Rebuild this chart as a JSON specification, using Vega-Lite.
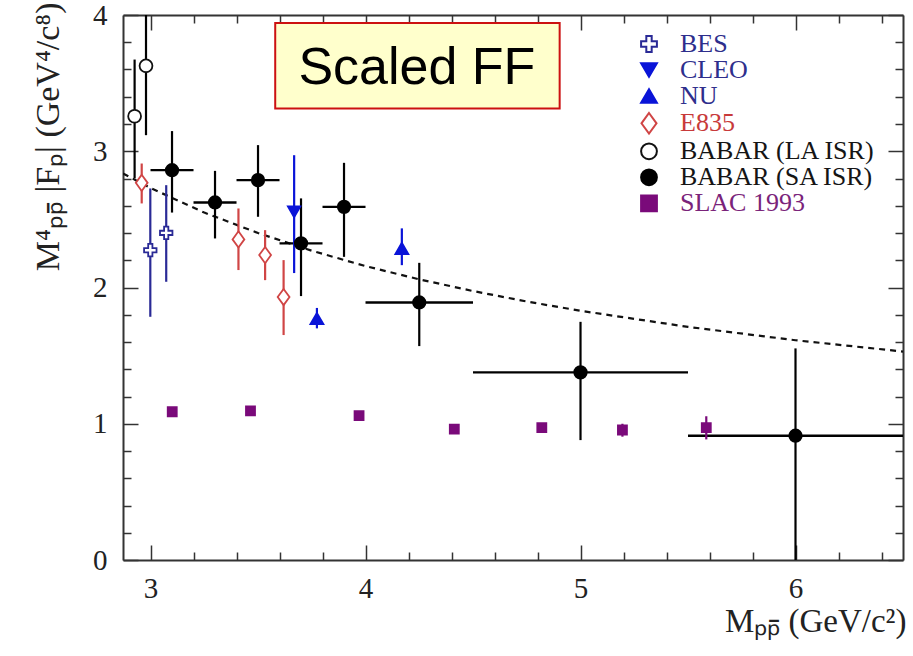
{
  "$schema": "https://vega.github.io/schema/vega-lite/v6.json",
  "width": 780,
  "height": 545,
  "autosize": {"type": "none"},
  "padding": {"left": 123, "top": 15, "right": 10, "bottom": 96},
  "background": "white",
  "config": {"view": {"stroke": null}, "axis": {"grid": false}},
  "datasets": {
    "pts": [
      {"exp": "BES", "x": 2.999, "y": 2.274, "ylo": 1.785, "yhi": 2.727},
      {"exp": "BES", "x": 3.073, "y": 2.401, "ylo": 2.042, "yhi": 2.751},
      {"exp": "CLEO", "x": 3.668, "y": 2.555, "ylo": 2.106, "yhi": 2.971},
      {"exp": "NU", "x": 3.774, "y": 1.772, "ylo": 1.70, "yhi": 1.85},
      {"exp": "NU", "x": 4.169, "y": 2.287, "ylo": 2.164, "yhi": 2.434},
      {"exp": "E835", "x": 2.959, "y": 2.768, "ylo": 2.617, "yhi": 2.91},
      {"exp": "E835", "x": 3.409, "y": 2.353, "ylo": 2.128, "yhi": 2.58},
      {"exp": "E835", "x": 3.533, "y": 2.238, "ylo": 2.054, "yhi": 2.421},
      {"exp": "E835", "x": 3.619, "y": 1.93, "ylo": 1.651, "yhi": 2.201},
      {"exp": "BABAR (LA ISR)", "x": 2.926, "y": 3.257, "ylo": 2.80, "yhi": 3.673},
      {"exp": "BABAR (LA ISR)", "x": 2.979, "y": 3.627, "ylo": 3.118, "yhi": 4.14},
      {"exp": "BABAR (SA ISR)", "x": 3.10, "y": 2.861, "ylo": 2.55, "yhi": 3.148, "xlo": 3.0, "xhi": 3.2},
      {"exp": "BABAR (SA ISR)", "x": 3.30, "y": 2.624, "ylo": 2.36, "yhi": 2.856, "xlo": 3.2, "xhi": 3.4},
      {"exp": "BABAR (SA ISR)", "x": 3.50, "y": 2.788, "ylo": 2.519, "yhi": 3.045, "xlo": 3.4, "xhi": 3.6},
      {"exp": "BABAR (SA ISR)", "x": 3.70, "y": 2.324, "ylo": 1.937, "yhi": 2.654, "xlo": 3.6, "xhi": 3.8},
      {"exp": "BABAR (SA ISR)", "x": 3.90, "y": 2.592, "ylo": 2.225, "yhi": 2.915, "xlo": 3.8, "xhi": 4.0},
      {"exp": "BABAR (SA ISR)", "x": 4.25, "y": 1.89, "ylo": 1.57, "yhi": 2.181, "xlo": 4.0, "xhi": 4.5},
      {"exp": "BABAR (SA ISR)", "x": 5.0, "y": 1.377, "ylo": 0.88, "yhi": 1.748, "xlo": 4.5, "xhi": 5.5},
      {"exp": "BABAR (SA ISR)", "x": 6.0, "y": 0.912, "ylo": 0.0, "yhi": 1.553, "xlo": 5.5, "xhi": 6.5},
      {"exp": "SLAC 1993", "x": 3.101, "y": 1.088},
      {"exp": "SLAC 1993", "x": 3.465, "y": 1.095},
      {"exp": "SLAC 1993", "x": 3.97, "y": 1.059},
      {"exp": "SLAC 1993", "x": 4.413, "y": 0.961},
      {"exp": "SLAC 1993", "x": 4.82, "y": 0.971},
      {"exp": "SLAC 1993", "x": 5.195, "y": 0.954, "ylo": 0.905, "yhi": 1.0},
      {"exp": "SLAC 1993", "x": 5.585, "y": 0.971, "ylo": 0.885, "yhi": 1.055}
    ],
    "curve": [
      {"x": 2.872, "y": 2.837},
      {"x": 3.0, "y": 2.73},
      {"x": 3.25, "y": 2.55},
      {"x": 3.5, "y": 2.40},
      {"x": 3.75, "y": 2.27},
      {"x": 4.0, "y": 2.157},
      {"x": 4.25, "y": 2.06},
      {"x": 4.5, "y": 1.974},
      {"x": 4.75, "y": 1.897},
      {"x": 5.0, "y": 1.829},
      {"x": 5.5, "y": 1.711},
      {"x": 6.0, "y": 1.613},
      {"x": 6.5, "y": 1.53}
    ],
    "box": [
      {"x": 3.58, "x2": 4.903, "y": 3.942, "y2": 3.314}
    ],
    "boxlabel": [
      {"x": 4.239, "y": 3.492, "label": "Scaled FF"}
    ]
  },
  "resolve": {"axis": {"x": "independent", "y": "independent"}},
  "layer": [
    {
      "data": {"name": "curve"},
      "mark": {"type": "line", "color": "#111111", "strokeWidth": 2.2, "strokeDash": [6, 5], "clip": true},
      "encoding": {
        "x": {
          "field": "x", "type": "quantitative",
          "scale": {"domain": [2.872, 6.5], "nice": false, "zero": false},
          "axis": {
            "orient": "bottom",
            "values": [3, 3.2, 3.4, 3.6, 3.8, 4, 4.2, 4.4, 4.6, 4.8, 5, 5.2, 5.4, 5.6, 5.8, 6, 6.2, 6.4],
            "labelExpr": "abs(datum.value - round(datum.value)) < 0.001 ? format(datum.value, 'd') : ''",
            "tickSize": {"condition": {"test": "abs(datum.value - round(datum.value)) < 0.001", "value": -15}, "value": -8},
            "tickColor": "#333333", "tickWidth": 1.5,
            "domainColor": "#333333", "domainWidth": 2,
            "labelFont": "Liberation Serif", "labelFontSize": 29, "labelColor": "#222222",
            "labelPadding": 29, "labelOverlap": false, "labelFlush": false,
            "grid": false,
            "title": "Mₚₚ̄ (GeV/c²)",
            "titleFont": "Liberation Serif", "titleFontSize": 33, "titleFontWeight": "normal", "titleColor": "#222222",
            "titleAlign": "right", "titleBaseline": "alphabetic", "titleX": 783, "titleY": 71
          }
        },
        "y": {
          "field": "y", "type": "quantitative",
          "scale": {"domain": [0, 4], "nice": false, "zero": false},
          "axis": {
            "orient": "left",
            "values": [0, 0.2, 0.4, 0.6, 0.8, 1, 1.2, 1.4, 1.6, 1.8, 2, 2.2, 2.4, 2.6, 2.8, 3, 3.2, 3.4, 3.6, 3.8, 4],
            "labelExpr": "abs(datum.value - round(datum.value)) < 0.001 ? format(datum.value, 'd') : ''",
            "tickSize": {"condition": {"test": "abs(datum.value - round(datum.value)) < 0.001", "value": -15}, "value": -8},
            "tickColor": "#333333", "tickWidth": 1.5,
            "domainColor": "#333333", "domainWidth": 2,
            "labelFont": "Liberation Serif", "labelFontSize": 29, "labelColor": "#222222",
            "labelPadding": 31, "labelOverlap": false, "labelFlush": false,
            "grid": false,
            "title": "M⁴ₚₚ̄ |Fₚ| (GeV⁴/c⁸)",
            "titleFont": "Liberation Serif", "titleFontSize": 34, "titleFontWeight": "normal", "titleColor": "#222222",
            "titleAngle": -90, "titleAlign": "right", "titleBaseline": "alphabetic", "titleX": -65, "titleY": -13
          }
        }
      }
    },
    {
      "data": {"name": "pts"},
      "transform": [{"filter": "isValid(datum.xlo)"}],
      "mark": {"type": "rule", "strokeWidth": 2.3, "color": "#000000", "clip": true},
      "encoding": {
        "x": {
          "field": "xlo", "type": "quantitative",
          "scale": {"domain": [2.872, 6.5], "nice": false, "zero": false},
          "axis": {
            "orient": "top",
            "values": [3, 3.2, 3.4, 3.6, 3.8, 4, 4.2, 4.4, 4.6, 4.8, 5, 5.2, 5.4, 5.6, 5.8, 6, 6.2, 6.4],
            "labels": false,
            "tickSize": {"condition": {"test": "abs(datum.value - round(datum.value)) < 0.001", "value": -15}, "value": -8},
            "tickColor": "#333333", "tickWidth": 1.5,
            "domainColor": "#333333", "domainWidth": 2,
            "grid": false, "title": null
          }
        },
        "x2": {"field": "xhi"},
        "y": {
          "field": "y", "type": "quantitative",
          "scale": {"domain": [0, 4], "nice": false, "zero": false},
          "axis": {
            "orient": "right",
            "values": [0, 0.2, 0.4, 0.6, 0.8, 1, 1.2, 1.4, 1.6, 1.8, 2, 2.2, 2.4, 2.6, 2.8, 3, 3.2, 3.4, 3.6, 3.8, 4],
            "labels": false,
            "tickSize": {"condition": {"test": "abs(datum.value - round(datum.value)) < 0.001", "value": -15}, "value": -8},
            "tickColor": "#333333", "tickWidth": 1.5,
            "domainColor": "#333333", "domainWidth": 2,
            "grid": false, "title": null
          }
        }
      }
    },
    {
      "data": {"name": "pts"},
      "transform": [{"filter": "isValid(datum.ylo)"}],
      "mark": {"type": "rule", "strokeWidth": 2.2, "clip": true},
      "encoding": {
        "x": {"field": "x", "type": "quantitative", "scale": {"domain": [2.872, 6.5], "nice": false, "zero": false}, "axis": null},
        "y": {"field": "ylo", "type": "quantitative", "scale": {"domain": [0, 4], "nice": false, "zero": false}, "axis": null},
        "y2": {"field": "yhi"},
        "stroke": {
          "condition": [
            {"test": "datum.exp === 'BES'", "value": "#2a2a96"},
            {"test": "datum.exp === 'CLEO' || datum.exp === 'NU'", "value": "#0a14d8"},
            {"test": "datum.exp === 'E835'", "value": "#d04545"},
            {"test": "datum.exp === 'SLAC 1993'", "value": "#7a0a7a"}
          ],
          "value": "#000000"
        }
      }
    },
    {
      "data": {"name": "pts"},
      "mark": {"type": "point", "filled": true, "strokeWidth": 1.8, "opacity": 1, "clip": true},
      "encoding": {
        "x": {"field": "x", "type": "quantitative", "scale": {"domain": [2.872, 6.5], "nice": false, "zero": false}, "axis": null},
        "y": {"field": "y", "type": "quantitative", "scale": {"domain": [0, 4], "nice": false, "zero": false}, "axis": null},
        "shape": {
          "field": "exp", "type": "nominal",
          "scale": {
            "domain": ["BES", "CLEO", "NU", "E835", "BABAR (LA ISR)", "BABAR (SA ISR)", "SLAC 1993"],
            "range": ["M-0.34,-1H0.34V-0.34H1V0.34H0.34V1H-0.34V0.34H-1V-0.34H-0.34Z", "triangle-down", "triangle-up", "M0,-1.3L0.95,0L0,1.3L-0.95,0Z", "circle", "circle", "square"]
          },
          "legend": {
            "title": null, "orient": "none", "legendX": 513, "legendY": 16, "padding": 0,
            "symbolSize": 250, "symbolStrokeWidth": 2,
            "labelFont": "Liberation Serif", "labelFontSize": 26, "labelOffset": 18, "labelLimit": 400, "rowPadding": -0.7,
            "labelColor": {"expr": "datum.value === 'E835' ? '#c83a3a' : datum.value === 'SLAC 1993' ? '#7a237a' : (datum.value === 'BES' || datum.value === 'CLEO' || datum.value === 'NU') ? '#2e2e8c' : '#151515'"}
          }
        },
        "fill": {
          "field": "exp", "type": "nominal",
          "scale": {
            "domain": ["BES", "CLEO", "NU", "E835", "BABAR (LA ISR)", "BABAR (SA ISR)", "SLAC 1993"],
            "range": ["#ffffff", "#0a14d8", "#0a14d8", "#ffffff", "#ffffff", "#000000", "#7a0a7a"]
          }
        },
        "stroke": {
          "field": "exp", "type": "nominal",
          "scale": {
            "domain": ["BES", "CLEO", "NU", "E835", "BABAR (LA ISR)", "BABAR (SA ISR)", "SLAC 1993"],
            "range": ["#2a2a96", "#0a14d8", "#0a14d8", "#d04545", "#111111", "#000000", "#7a0a7a"]
          }
        },
        "size": {
          "condition": [
            {"test": "datum.exp === 'SLAC 1993'", "value": 81},
            {"test": "datum.exp === 'NU'", "value": 169},
            {"test": "datum.exp === 'BABAR (LA ISR)'", "value": 165}
          ],
          "value": 155
        }
      }
    },
    {
      "data": {"name": "box"},
      "mark": {"type": "rect", "fill": "#ffffcc", "stroke": "#cc1111", "strokeWidth": 2},
      "encoding": {
        "x": {"field": "x", "type": "quantitative", "scale": {"domain": [2.872, 6.5], "nice": false, "zero": false}, "axis": null},
        "x2": {"field": "x2"},
        "y": {"field": "y", "type": "quantitative", "scale": {"domain": [0, 4], "nice": false, "zero": false}, "axis": null},
        "y2": {"field": "y2"}
      }
    },
    {
      "data": {"name": "boxlabel"},
      "mark": {"type": "text", "font": "Liberation Sans", "fontSize": 52, "color": "#000000", "align": "center", "baseline": "alphabetic"},
      "encoding": {
        "x": {"field": "x", "type": "quantitative", "scale": {"domain": [2.872, 6.5], "nice": false, "zero": false}, "axis": null},
        "y": {"field": "y", "type": "quantitative", "scale": {"domain": [0, 4], "nice": false, "zero": false}, "axis": null},
        "text": {"field": "label"}
      }
    }
  ]
}
